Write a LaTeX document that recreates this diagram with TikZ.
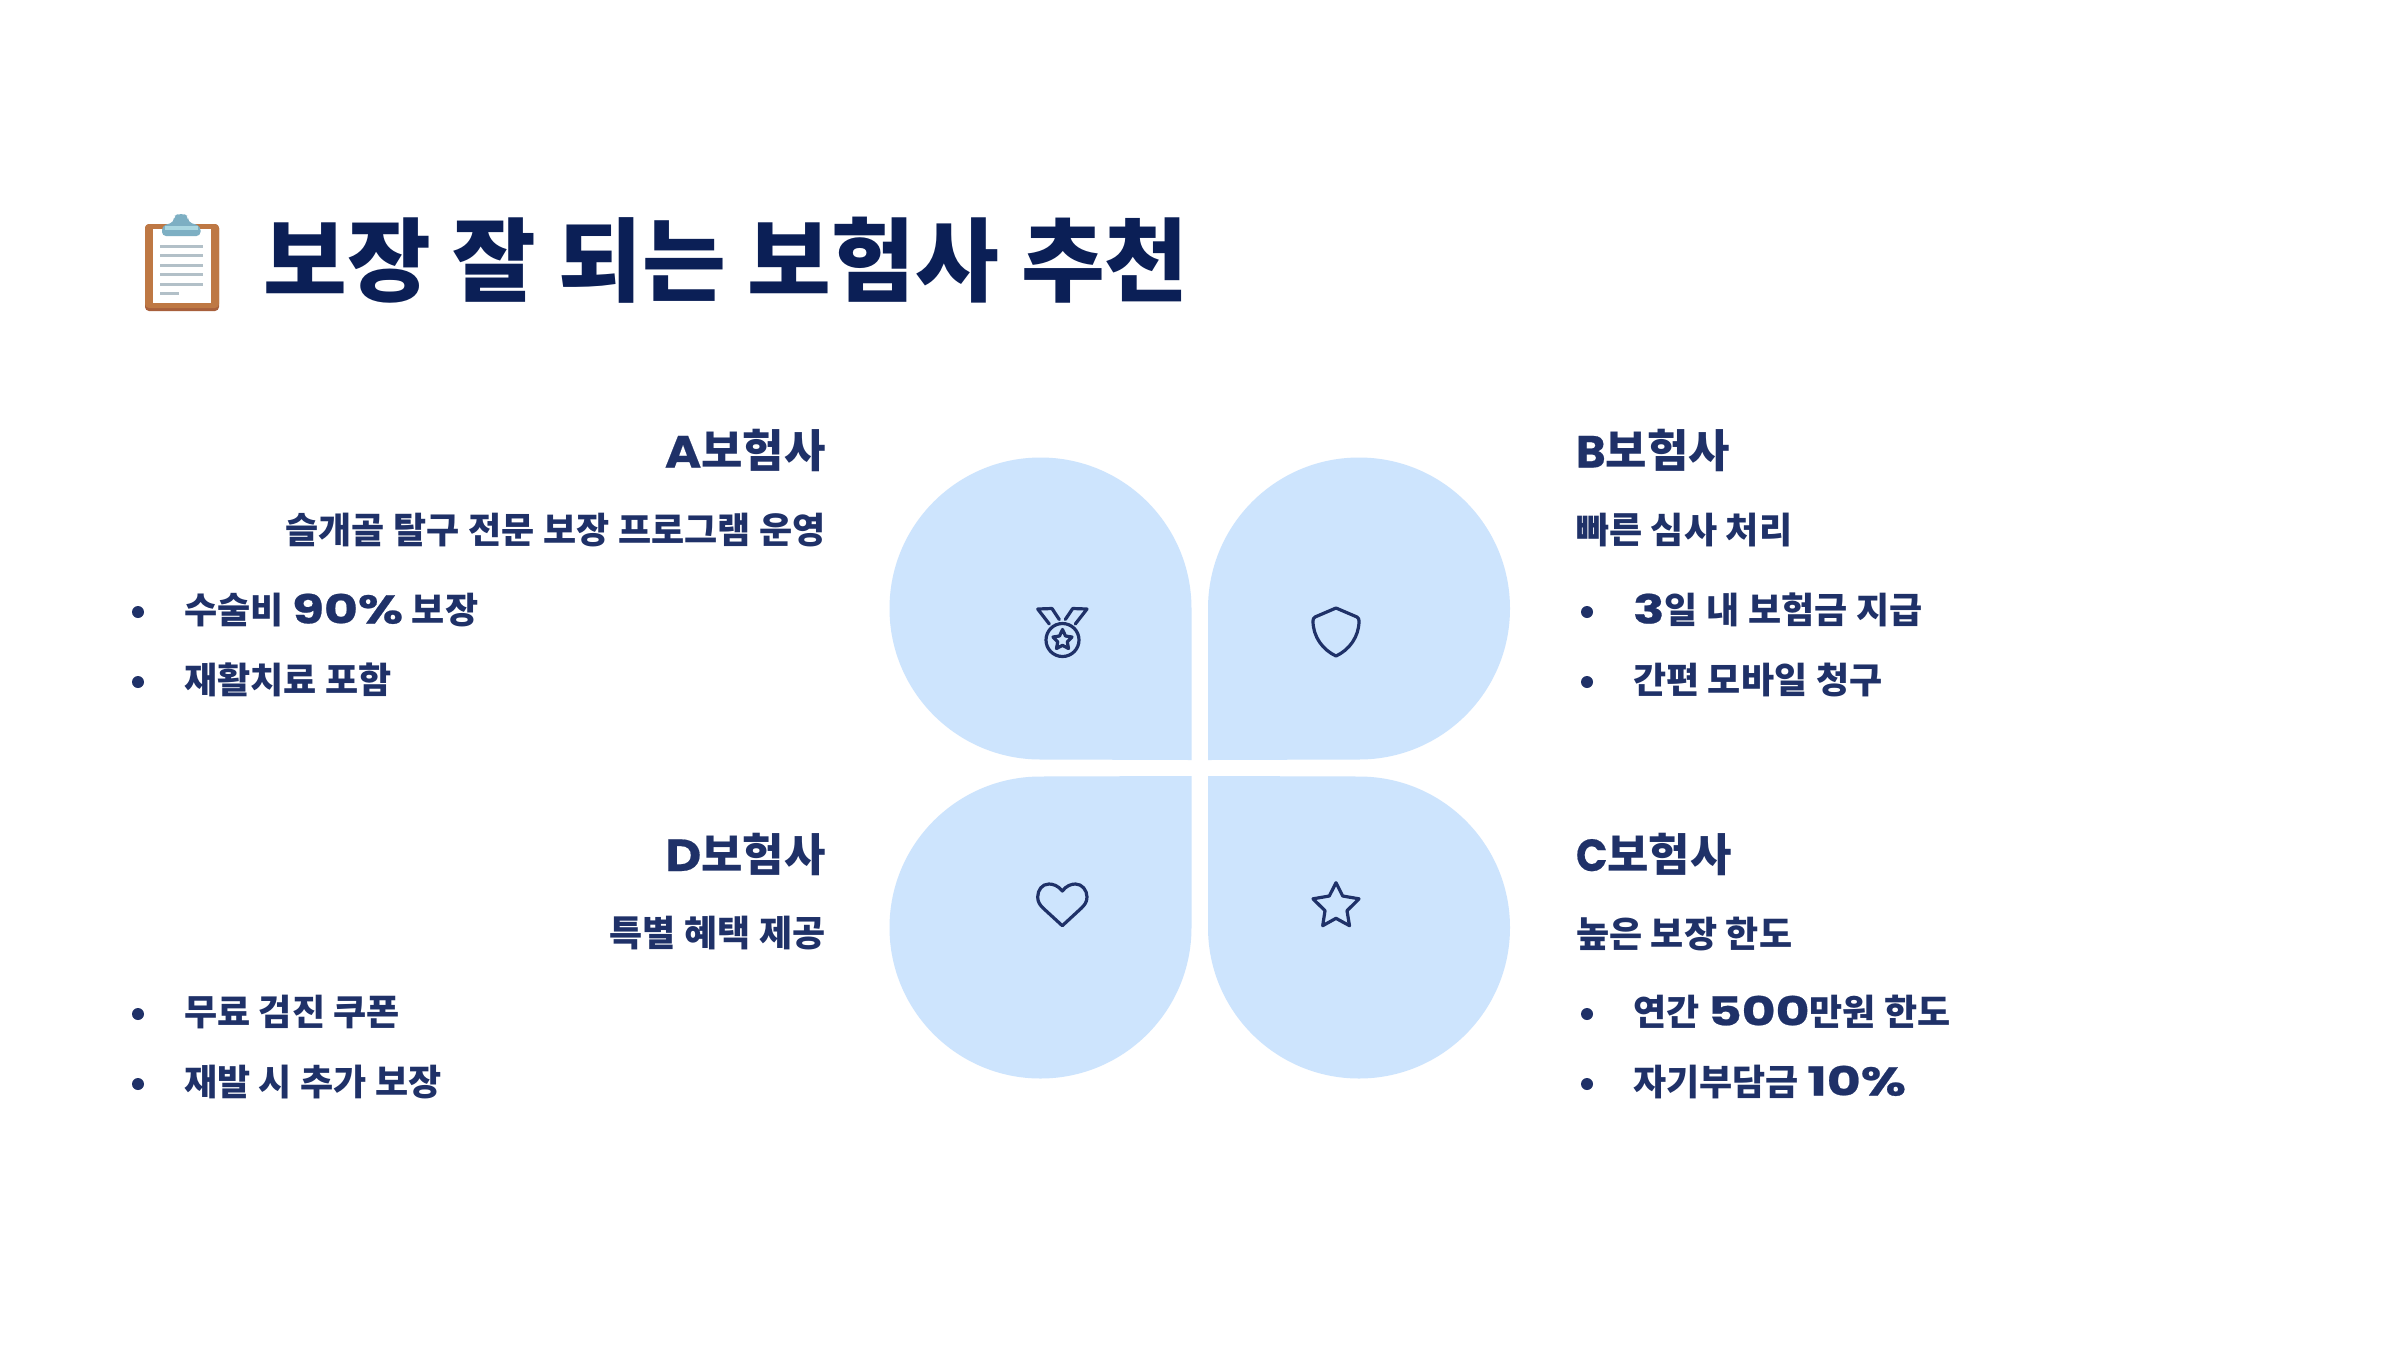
\documentclass[tikz,border=0pt]{standalone}
\usepackage{fontspec}
\setmainfont{Noto Sans CJK KR}
\newfontfamily\latwide[FakeStretch=1.1,FakeBold=0.4]{Poppins}
\newfontfamily\latwideb[FakeStretch=1.0,FakeBold=0.4]{Poppins}
\newfontfamily\latwidec[FakeStretch=0.92,FakeBold=0.4]{Poppins}
\newfontfamily\latbody[FakeStretch=1.3,FakeBold=0.6]{Poppins}
\newcommand{\hlat}[1]{{\latwide\bfseries #1}}
\newcommand{\hlatb}[1]{{\latwideb\bfseries #1}}
\newcommand{\hlatc}[1]{{\latwidec\bfseries #1}}
\newcommand{\blat}[1]{{\latbody\bfseries\fontsize{20}{22}\selectfont #1}}
\newcommand{\tsp}{\hspace{11pt}}
\newcommand{\bsp}{\hspace{4.35pt}}
\definecolor{ink}{HTML}{1F3168}
\definecolor{titleink}{HTML}{0B1F56}
\definecolor{leaf}{HTML}{CDE4FD}
\tikzset{
  txt/.style={inner sep=0pt,outer sep=0pt,text=ink,font=\bfseries},
  heading/.style={txt,font=\bfseries\fontsize{22.5}{26}\selectfont},
  body/.style={txt,font=\bfseries\fontsize{18}{22}\selectfont},
  dot/.style={circle,fill=ink,inner sep=0pt,minimum size=6pt},
  leafshape/.style={fill=leaf,draw=none},
  icon/.style={draw=ink,line width=1.6pt,line cap=round,line join=round},
}
\begin{document}
\begin{tikzpicture}[x=0.5pt,y=-0.5pt]
\useasboundingbox (0,0) rectangle (2400,1350);
\fill[white] (0,0) rectangle (2400,1350);
% clipboard
\fill[rounded corners=2pt,fill={rgb,255:red,168;green,96;blue,60}] (145,224) rectangle (219,311);
\fill[rounded corners=2pt,fill={rgb,255:red,190;green,120;blue,68}] (145,224) rectangle (219,308);
\fill[white] (153,229) rectangle (210.5,302.5);
\foreach \yy in {246,255.5,265,274.5,284} \fill[fill={rgb,255:red,178;green,192;blue,200}] (160,\yy-1.5) rectangle (203,\yy+1.5);
\fill[fill={rgb,255:red,178;green,192;blue,200}] (160,292) rectangle (179,295);
\fill[fill={rgb,255:red,125;green,175;blue,195},rounded corners=2pt] (162,236) -- (162,226) -- (174,222) -- (174,216) -- (178,214) -- (184,214) -- (188,216) -- (188,222) -- (200.5,226) -- (200.5,236) -- cycle;
\fill[fill={rgb,255:red,170;green,215;blue,225}] (165,226) rectangle (198,230);
% title
\node[anchor=base west,inner sep=0pt,text=titleink,font=\bfseries\fontsize{45.5}{50}\selectfont] (title) at (263,294) {보장\tsp{}잘\tsp{}되는\tsp{}보험사\tsp{}추천};
% leaves
\fill[leafshape] (1191.5,760) -- (1040.5,759.5) arc[start angle=90,end angle=270,radius=151] arc[start angle=-90,end angle=0,radius=151] -- cycle;
\fill[leafshape] (1208,760) -- (1359,759.5) arc[start angle=90,end angle=-90,radius=151] arc[start angle=270,end angle=180,radius=151] -- cycle;
\fill[leafshape] (1191.5,776) -- (1040.5,776.5) arc[start angle=270,end angle=90,radius=151] arc[start angle=90,end angle=0,radius=151] -- cycle;
\fill[leafshape] (1208,776) -- (1359,776.5) arc[start angle=-90,end angle=90,radius=151] arc[start angle=90,end angle=180,radius=151] -- cycle;
% medal
\draw[icon] (1049.3,624) -- (1037.7,609) -- (1052,608.5) -- (1059.3,619.5);
\draw[icon] (1075.3,624) -- (1087,609) -- (1072.7,608.5) -- (1065.3,619.5);
\draw[icon] (1062.5,640) circle[radius=16.5];
\draw[icon] (1062.5,629.5) -- (1065.5,636) -- (1072,637) -- (1067.3,641.8) -- (1068.5,648.5) -- (1062.5,645.3) -- (1056.5,648.5) -- (1057.7,641.8) -- (1053,637) -- (1059.5,636) -- cycle;
% shield
\draw[icon] (1336,608) -- (1315,617) .. controls (1313.5,618) and (1313,619) .. (1313,621) .. controls (1313,637) and (1323,650) .. (1336,656) .. controls (1349,650) and (1359,637) .. (1359,621) .. controls (1359,619) and (1358.5,618) .. (1357,617) -- cycle;
% heart
\draw[icon] (1062.3,891) .. controls (1058,885.5) and (1053,884) .. (1049,884) .. controls (1042,884) and (1037.7,890) .. (1037.7,897) .. controls (1037.7,902) and (1040,905) .. (1043,908) -- (1062.3,925.7) -- (1081.5,908) .. controls (1084.5,905) and (1087,902) .. (1087,897) .. controls (1087,890) and (1082,884) .. (1075.5,884) .. controls (1071.5,884) and (1066.5,885.5) .. cycle;
% star
\draw[icon] (1336,882.7) -- (1342.7,896) -- (1359,898.8) -- (1347,910.7) -- (1349.5,925.7) -- (1336,918.3) -- (1322.7,925.7) -- (1325,910.7) -- (1313,898.8) -- (1329.3,896) -- cycle;
% A
\node[heading,anchor=base east] (ah) at (825.5,467.5) {\hlat{A}보험사};
\node[body,anchor=base east] (as) at (825.5,543) {슬개골\bsp{}탈구\bsp{}전문\bsp{}보장\bsp{}프로그램\bsp{}운영};
\node[dot] (ad1) at (138,612) {};
\node[body,anchor=base west] (a1) at (184,623.5) {수술비\bsp{}\blat{90\%}\bsp{}보장};
\node[dot] (ad2) at (138,682) {};
\node[body,anchor=base west] (a2) at (184,693.5) {재활치료\bsp{}포함};
% B
\node[heading,anchor=base west] (bh) at (1576,467.5) {\hlatb{B}보험사};
\node[body,anchor=base west] (bs) at (1576,543) {빠른\bsp{}심사\bsp{}처리};
\node[dot] (bd1) at (1587,612) {};
\node[body,anchor=base west] (b1) at (1633,623.5) {\blat{3}일\bsp{}내\bsp{}보험금\bsp{}지급};
\node[dot] (bd2) at (1587,682) {};
\node[body,anchor=base west] (b2) at (1633,693.5) {간편\bsp{}모바일\bsp{}청구};
% D
\node[heading,anchor=base east] (dh) at (825.5,871) {\hlat{D}보험사};
\node[body,anchor=base east] (ds) at (825.5,946) {특별\bsp{}혜택\bsp{}제공};
\node[dot] (dd1) at (138,1014) {};
\node[body,anchor=base west] (d1) at (184,1025.5) {무료\bsp{}검진\bsp{}쿠폰};
\node[dot] (dd2) at (138,1084) {};
\node[body,anchor=base west] (d2) at (184,1095.5) {재발\bsp{}시\bsp{}추가\bsp{}보장};
% C
\node[heading,anchor=base west] (ch) at (1576,871) {\hlatc{C}보험사};
\node[body,anchor=base west] (cs) at (1576,947) {높은\bsp{}보장\bsp{}한도};
\node[dot] (cd1) at (1587,1014) {};
\node[body,anchor=base west] (c1) at (1633,1025.5) {연간\bsp{}\blat{500}만원\bsp{}한도};
\node[dot] (cd2) at (1587,1084) {};
\node[body,anchor=base west] (c2) at (1633,1095.5) {자기부담금\bsp{}\blat{10\%}};
\end{tikzpicture}
\end{document}
